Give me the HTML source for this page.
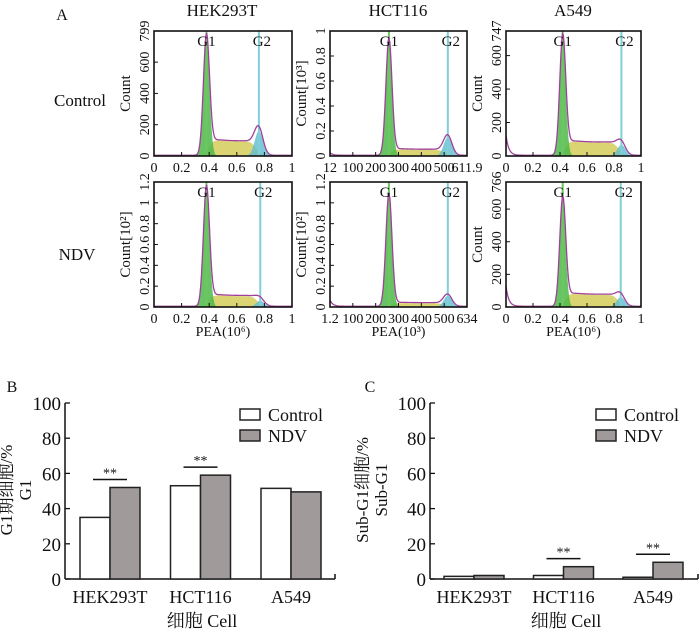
<!DOCTYPE html>
<html><head><meta charset="utf-8"><style>
body{margin:0;background:#fff;}
svg{display:block;}
svg text{font-family:"Liberation Serif",serif;}
svg text.cjk{font-family:"Liberation Serif","Noto Serif CJK SC",serif;}
</style></head><body>
<svg id="fig" width="700" height="632" viewBox="0 0 700 632"></svg>
<script>
// ---- Panel A histogram data (fractions of axis) ----
const cellLines = ["HEK293T","HCT116","A549"];
const rowLabels = ["Control","NDV"];
const g1Pos = [0.38,0.43,0.42, 0.38,0.43,0.42];
const g2Pos = [0.76,0.86,0.855, 0.77,0.86,0.85];
const g1Peak = [0.95,0.93,0.95, 0.95,0.90,0.86];
const plateau = [0.12,0.05,0.11, 0.09,0.03,0.10];
const g2Peak = [0.20,0.15,0.09, 0.05,0.09,0.08];
const subG1 = [0.0,0.02,0.16, 0.0,0.05,0.16];
const yTicksA = [
 ["0","200","400","600","799"],["0","0.2","0.4","0.6","0.8","1"],["0","200","400","600","747"],
 ["0","0.2","0.4","0.6","0.8","1","1.2"],["0","0.2","0.4","0.6","0.8","1","1.2"],["0","200","400","600","766"]];
const yTickMax = [799,1,747,1.2,1.2,766];
const yTitles = ["Count","Count[10³]","Count","Count[10²]","Count[10²]","Count"];
const xTickLabelsA = [
 ["0","0.2","0.4","0.6","0.8","1"],["12","100","200","300","400","500","611.9"],["0","0.2","0.4","0.6","0.8","1"],
 ["0","0.2","0.4","0.6","0.8","1"],["1.2","100","200","300","400","500","634"],["0","0.2","0.4","0.6","0.8","1"]];
// ---- Panel B/C bar data ----
const groups = ["HEK293T","HCT116","A549"];
const bControl = [35,53,51.5];
const bNDV = [52,59,49.5];
const cControl = [1.5,2,1];
const cNDV = [2,7,9.5];
const barTicks = [0,20,40,60,80,100];
const bSig = [0,1];
const cSig = [1,2];

const svg=document.getElementById('fig');
const NS='http://www.w3.org/2000/svg';
function mk(tag,attrs,parent){const e=document.createElementNS(NS,tag);for(const k in attrs)e.setAttribute(k,attrs[k]);(parent||svg).appendChild(e);return e;}
function txt(s,x,y,size,anchor,parent,rot){const t=mk('text',{x:x,y:y,'font-size':size,'text-anchor':anchor||'middle',fill:'#111'},parent);if(/[^\x00-\x7F³²⁶]/.test(s))t.setAttribute('class','cjk');if(rot)t.setAttribute('transform','rotate(-90 '+x+' '+y+')');t.textContent=s;return t;}

let t=txt('A',62,20,16,'middle');
cellLines.forEach((c,i)=>{const e=txt(c,[222,398,573][i],16,17,'middle');

});
rowLabels.forEach((r,i)=>{const e=txt(r,[80,77][i],[106,260][i],17,'middle');

});

const boxX=[[154,292],[330,467],[506,641]];
const boxY=[[31,156],[182,307]];
const gauss=(x,m,s)=>Math.exp(-0.5*((x-m)/s)**2);
for(let p=0;p<6;p++){
 const r=Math.floor(p/3),c=p%3;
 const [x0,x1]=boxX[c],[y0,y1]=boxY[r];
 const g=mk('g',{});
 
 
 const sx=f=>x0+f*(x1-x0), sy=v=>y1-v*(y1-y0);
 const N=160;
 const comp=f=>{
  const a=g1Peak[p]*gauss(f,g1Pos[p],0.022);
  const span=g2Pos[p]-g1Pos[p];
  const u=(f-g1Pos[p])/span;
  const shape=1.15-0.6*u+0.5*u*u;
  const sm=plateau[p]*shape*(1/(1+Math.exp(-(f-g1Pos[p]-0.02)/0.015)))*(1/(1+Math.exp((f-g2Pos[p]+0.02)/0.02)));
  const b=g2Peak[p]*gauss(f,g2Pos[p],0.03);
  const sg=subG1[p]*Math.exp(-f/0.02)+0.006;
  return [a,sm,b,sg];};
 let pg='',py='',pb='',pl='';
 for(let i=0;i<=N;i++){const f=i/N;const [a,sm,b,sg]=comp(f);
  pg+=(i?'L':'M')+sx(f)+' '+sy(a);
  py+=(i?'L':'M')+sx(f)+' '+sy(sm);
  pb+=(i?'L':'M')+sx(f)+' '+sy(b);
  pl+=(i?'L':'M')+sx(f)+' '+sy(Math.min(1,a+sm+b+sg));}
 const close='L'+x1+' '+y1+'L'+x0+' '+y1+'Z';
 mk('path',{d:py+close,fill:'#d4cc5a',opacity:0.85},g);
 mk('path',{d:pb+close,fill:'#5fbcd0',opacity:0.8},g);
 mk('path',{d:pg+close,fill:'#4cb848',opacity:0.85},g);
 mk('line',{x1:sx(g1Pos[p]),x2:sx(g1Pos[p]),y1:y0,y2:y1,stroke:'#6cc860','stroke-width':2},g);
 mk('line',{x1:sx(g2Pos[p]),x2:sx(g2Pos[p]),y1:y0,y2:y1,stroke:'#7fd0d8','stroke-width':2},g);
 mk('path',{d:pl,fill:'none',stroke:'#a0409a','stroke-width':1.3},g);
 txt('G1',sx(g1Pos[p]),y0+15,15,'middle',g);
 txt('G2',sx(g2Pos[p])+3,y0+15,15,'middle',g);
 mk('rect',{x:x0,y:y0,width:x1-x0,height:y1-y0,fill:'none',stroke:'#111','stroke-width':1.6},g);
 const yt=yTicksA[p];
 yt.forEach(s=>{const v=parseFloat(s)/yTickMax[p];const yy=sy(Math.min(v,1));
  mk('line',{x1:x0,x2:x0+4,y1:yy,y2:yy,stroke:'#111'},g);
  txt(s,x0-5,yy,14,'middle',g,true);});
 txt(yTitles[p],x0-24,(y0+y1)/2,15,'middle',g,true);
 const xt=xTickLabelsA[p];
 xt.forEach((s,i)=>{const xx=x0+i*(x1-x0)/(xt.length-1);
  mk('line',{x1:xx,x2:xx,y1:y1,y2:y1-4,stroke:'#111'},g);
  txt(s,xx,y1+16,14,'middle',g);});
 if(r===1){const lab=c===1?'PEA(10³)':'PEA(10⁶)';txt(lab,(x0+x1)/2,336,14,'middle',g);}
}

function barChart(opt){
 const g=mk('g',{});
 
 
 const yS=v=>579-v*1.76;
 txt(opt.letter,opt.letterX,392,16,'middle',g);
 mk('line',{x1:opt.ax,x2:opt.ax,y1:yS(100),y2:yS(0),stroke:'#111','stroke-width':1.5},g);
 mk('line',{x1:opt.ax,x2:opt.axEnd,y1:yS(0),y2:yS(0),stroke:'#111','stroke-width':1.5},g);
 mk('line',{x1:opt.axEnd,x2:opt.axEnd,y1:yS(0),y2:yS(0)-5,stroke:'#111','stroke-width':1.5},g);
 barTicks.forEach(v=>{mk('line',{x1:opt.ax,x2:opt.ax+5,y1:yS(v),y2:yS(v),stroke:'#111','stroke-width':1.3},g);
  txt(String(v),opt.ax-4,yS(v)+7,19,'end',g);});
 groups.forEach((gr,i)=>{const gx=opt.start+i*opt.step;
  const r1=mk('rect',{x:gx,y:yS(opt.ctrl[i]),width:30,height:yS(0)-yS(opt.ctrl[i]),fill:'#fff',stroke:'#222','stroke-width':1.5},g);
  
  
  const r2=mk('rect',{x:gx+30,y:yS(opt.ndv[i]),width:30,height:yS(0)-yS(opt.ndv[i]),fill:'#a09a9a',stroke:'#222','stroke-width':1.5},g);
  
  
  txt(gr,gx+30,603,18,'middle',g);
  if(opt.sig.includes(i)){const top=Math.max(opt.ctrl[i],opt.ndv[i]);const ly=yS(top)-8;
   mk('line',{x1:gx+13,x2:gx+47,y1:ly,y2:ly,stroke:'#111','stroke-width':1.5},g);
   txt('**',gx+30,ly-2,14,'middle',g);}
 });
 txt('细胞 Cell',opt.ax+(opt.axEnd-opt.ax)/2+2,627,18,'middle',g);
 txt(opt.ylab1,opt.ylx,490,17,'middle',g,true);
 txt(opt.ylab2,opt.ylx+19,490,17,'middle',g,true);
 const lg=mk('g',{},g);
 
 
 mk('rect',{x:opt.legX,y:409,width:20,height:11,fill:'#fff',stroke:'#222','stroke-width':1.5},lg);
 txt('Control',opt.legX+28,421,18,'start',lg);
 mk('rect',{x:opt.legX,y:430,width:20,height:11,fill:'#a09a9a',stroke:'#222','stroke-width':1.5},lg);
 txt('NDV',opt.legX+28,442,18,'start',lg);
}
barChart({name:'chart-b-g1-cells',letter:'B',letterX:12,ax:65,axEnd:335,start:80,step:90.5,ctrl:bControl,ndv:bNDV,sig:bSig,ylab1:'G1期细胞/%',ylab2:'G1',ylx:12,legX:240});
barChart({name:'chart-c-subg1-cells',letter:'C',letterX:370,ax:430,axEnd:698,start:444,step:89.5,ctrl:cControl,ndv:cNDV,sig:cSig,ylab1:'Sub-G1细胞/%',ylab2:'Sub-G1',ylx:368,legX:596});
</script>
</body></html>
